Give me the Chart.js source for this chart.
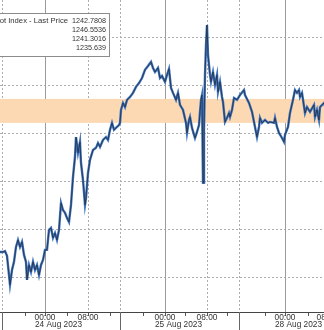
<!DOCTYPE html>
<html>
<head>
<meta charset="utf-8">
<script src="https://cdn.jsdelivr.net/npm/chart.js@4.4.0/dist/chart.umd.min.js"></script>
<style>
    html, body { margin: 0; padding: 0; background: #fff; overflow: hidden; }
    #wrap { position: absolute; left: 0; top: 0; width: 344px; height: 330px; }
</style>
</head>
<body>
<div id="wrap"><canvas id="priceChart"></canvas></div>
<script>
// chart hours from 24 Aug 00:00, weekend taken out (25 Aug -> 28 Aug is one step)
const hours = [
    -9.0, -8.4, -8.0, -7.6, -7.2, -7.0, -6.6, -6.2, -5.8, -5.4, -5.0, -4.6, -4.2, -3.8, -3.6, -3.2,
    -2.8, -2.4, -2.0, -1.6, -1.2, -0.8, -0.4,
    0, 0.4, 0.8, 1.2, 1.6, 2.0, 2.4, 2.8, 3.2, 3.6, 4.0, 4.4, 4.8, 5.2, 5.6, 6.0, 6.2, 6.4, 6.6,
    7.0, 7.2, 7.6, 8.0, 8.2, 8.6, 9.0, 9.6, 10.2, 10.6, 11.0, 11.6, 12.2, 12.6, 13.0, 13.4, 13.8,
    14.4, 14.8, 15.0, 15.2, 15.6, 16.0, 16.4, 17.0, 17.6, 18.2, 18.8, 19.4, 20.0, 20.6, 21.2, 21.6,
    22.0, 22.6, 23.0, 23.4,
    24.0, 24.4, 24.8, 25.2, 25.6, 26.2, 26.6, 27.0, 27.6, 28.2, 28.4, 28.8, 29.0, 29.4, 30.0, 30.4,
    30.8, 31.0, 31.2, 31.4, 31.6, 31.8, 32.0, 32.2, 32.4, 32.6, 33.0, 33.2, 33.6, 34.0, 34.4, 34.6,
    35.0, 35.4, 35.6, 36.0, 36.4, 36.8, 37.0, 37.4, 37.8, 38.4, 39.0, 39.8, 40.0, 40.8, 41.4, 42.0,
    42.4, 42.8, 43.0, 43.4, 44.0, 44.6, 45.0, 45.8, 46.0, 46.4, 46.8, 47.4, 47.8,
    48.0, 48.6, 49.0, 49.6, 50.0, 50.4, 50.8, 51.0, 51.4, 52.0, 52.4, 53.0, 53.8, 54.0, 54.4, 54.8,
    55.0, 55.8, 56.6
];
const price = [
    1237.04, 1237.04, 1237.08, 1236.88, 1236.08, 1235.67, 1236.29, 1236.63, 1237.25, 1237.54, 1237.25, 1237.46, 1236.92, 1236.63, 1235.88, 1236.50,
    1236.21, 1236.63, 1236.29, 1236.50, 1236.08, 1236.50, 1236.71,
    1237.13, 1237.13, 1237.96, 1238.04, 1237.63, 1237.83, 1237.54, 1237.96, 1239.08, 1238.79, 1238.67, 1238.46, 1238.29, 1239.00, 1240.17, 1241.00, 1241.83, 1241.50, 1241.17,
    1241.63, 1240.75, 1240.04, 1239.00, 1239.29, 1240.33, 1240.88, 1241.29, 1241.38, 1241.58, 1241.42, 1241.71, 1241.83, 1241.71, 1242.13, 1242.42, 1242.13,
    1242.25, 1242.33, 1242.42, 1242.96, 1243.25, 1243.08, 1243.38, 1243.50, 1243.67, 1243.92, 1244.08, 1244.29, 1244.63, 1244.79, 1244.96, 1244.71,
    1244.54, 1244.71, 1244.29, 1244.38,
    1244.13, 1244.42, 1244.67, 1243.88, 1243.67, 1243.38, 1243.67, 1243.17, 1242.96, 1242.42, 1242.00, 1242.54, 1242.67, 1242.21, 1241.79, 1242.04,
    1242.33, 1242.88, 1243.38, 1243.58, 1239.92, 1242.13, 1244.42, 1245.67, 1246.50, 1245.25, 1244.42, 1244.13, 1244.54, 1244.00, 1244.42, 1243.71,
    1244.13, 1243.50, 1243.29, 1242.46, 1242.63, 1242.83, 1242.67, 1242.96, 1243.46, 1243.38, 1243.58, 1243.79, 1243.58, 1243.25, 1242.88, 1242.25,
    1241.83, 1242.25, 1242.63, 1242.42, 1242.54, 1242.42, 1242.46, 1242.42, 1242.63, 1242.25, 1242.00, 1241.79, 1241.63,
    1241.92, 1242.25, 1242.83, 1243.38, 1243.79, 1243.67, 1243.79, 1243.50, 1243.67, 1242.83, 1243.08, 1242.88, 1243.17, 1242.67, 1242.96, 1242.54,
    1243.08, 1243.25, 1242.78
];

// axis marks (same hour units)
const dayLines = [0, 24, 48];              // 00:00, solid
const hourLines = [8.6, 32.4, 56.4];       // 08:00, dotted
const sessionLines = [-8.6, 15, 38.8];     // session breaks, dotted
const minorTicks = [-4, 4.4, 13, 19.6, 28, 36.4, 44, 52.6];
const labelHours = [0, 8.6, 24, 32.4, 48, 56.4];
const labelText = ['00:00', '08:00', '00:00', '08:00', '00:00', '08:00'];
const dateLabels = ['24 Aug 2023', '25 Aug 2023', '28 Aug 2023'];
const priceGrid = [1236, 1238, 1240, 1242, 1244, 1246];
const band = [1242.42, 1243.42];

const legendLabel = 'Bloomberg Dollar Spot Index - Last Price';
const legendValues = ['1242.7808', '1246.5536', '1241.3016', '1235.639'];

const FONT = '"Liberation Sans", Arial, sans-serif';

// grid, band, dates and the legend box
const overlay = {
    id: 'overlay',
    beforeDatasetsDraw(chart) {
        const {ctx, chartArea: a, scales: {x, y}} = chart;
        ctx.save();
        ctx.lineWidth = 1;

        ctx.strokeStyle = '#adadad';
        ctx.setLineDash([2, 2]);
        priceGrid.forEach(v => {
            const py = Math.round(y.getPixelForValue(v)) + 0.5;
            ctx.beginPath(); ctx.moveTo(a.left, py); ctx.lineTo(a.right, py); ctx.stroke();
        });
        hourLines.concat(sessionLines).forEach(h => {
            const px = Math.round(x.getPixelForValue(h)) + 0.5;
            ctx.beginPath(); ctx.moveTo(px, a.top); ctx.lineTo(px, a.bottom); ctx.stroke();
        });

        ctx.setLineDash([]);
        ctx.strokeStyle = '#9a9a9a';
        dayLines.forEach(h => {
            const px = Math.round(x.getPixelForValue(h)) + 0.5;
            ctx.beginPath(); ctx.moveTo(px, a.top); ctx.lineTo(px, a.bottom); ctx.stroke();
        });
        ctx.strokeStyle = '#666';
        sessionLines.forEach(h => {
            const px = Math.round(x.getPixelForValue(h)) + 0.5;
            ctx.beginPath(); ctx.moveTo(px, a.bottom); ctx.lineTo(px, chart.height); ctx.stroke();
        });

        ctx.fillStyle = '#fcd9b3';
        const top = y.getPixelForValue(band[1]);
        const bot = y.getPixelForValue(band[0]);
        ctx.fillRect(a.left, top, a.right - a.left, bot - top);
        ctx.restore();
    },
    afterDraw(chart) {
        const {ctx, chartArea: a, scales: {x}} = chart;
        ctx.save();
        ctx.fillStyle = '#333';
        ctx.font = '8.3px ' + FONT;
        ctx.textAlign = 'left';
        ctx.textBaseline = 'top';
        dayLines.forEach((h, i) => {
            ctx.fillText(dateLabels[i], x.getPixelForValue(h) - 10, a.bottom + 9);
        });

        // legend box (left part cut off like the source)
        ctx.fillStyle = '#fff';
        ctx.strokeStyle = '#8c8c8c';
        ctx.fillRect(-20, 13, 130, 43);
        ctx.strokeRect(-20.5, 13.5, 130, 43);
        ctx.fillStyle = '#333';
        ctx.textBaseline = 'middle';
        ctx.textAlign = 'right';
        ctx.font = '7.7px ' + FONT;
        ctx.fillText(legendLabel, 68, 21);
        ctx.font = '7.2px ' + FONT;
        legendValues.forEach((s, i) => ctx.fillText(s, 106, 21 + i * 9));
        ctx.restore();
    }
};

document.addEventListener('DOMContentLoaded', () => {
    const ctx = document.getElementById('priceChart').getContext('2d');
    const points = hours.map((h, i) => ({x: h, y: price[i]}));
    new Chart(ctx, {
        type: 'line',
        data: {
            datasets: [{
                // dark core drawn on top
                data: points,
                borderColor: '#1e2430',
                borderWidth: 0.7,
                pointRadius: 0,
                tension: 0
            }, {
                data: points,
                borderColor: '#3f74bd',
                borderWidth: 2.4,
                pointRadius: 0,
                tension: 0
            }]
        },
        options: {
            responsive: true,
            maintainAspectRatio: false,
            animation: false,
            layout: { padding: 0 },
            plugins: { legend: { display: false }, tooltip: { enabled: false } },
            scales: {
                x: {
                    type: 'linear',
                    min: -9,
                    max: 59.8,
                    afterBuildTicks: s => {
                        s.ticks = labelHours.concat(minorTicks)
                            .filter(v => v >= -9 && v <= 59.8)
                            .sort((p, q) => p - q)
                            .map(v => ({value: v}));
                    },
                    afterFit: s => { s.height = 18; },
                    grid: { drawOnChartArea: false, drawTicks: true, tickLength: 4, tickColor: '#555' },
                    border: { display: true, color: '#444', width: 1 },
                    ticks: {
                        autoSkip: false,
                        maxRotation: 0,
                        padding: -3,
                        color: '#333',
                        font: { family: FONT, size: 8.3 },
                        callback: v => {
                            const i = labelHours.indexOf(v);
                            return i < 0 ? '' : labelText[i];
                        }
                    }
                },
                y: {
                    display: false,
                    min: 1234.54,
                    max: 1247.54
                }
            }
        },
        plugins: [overlay]
    });
});
</script>
</body>
</html>
